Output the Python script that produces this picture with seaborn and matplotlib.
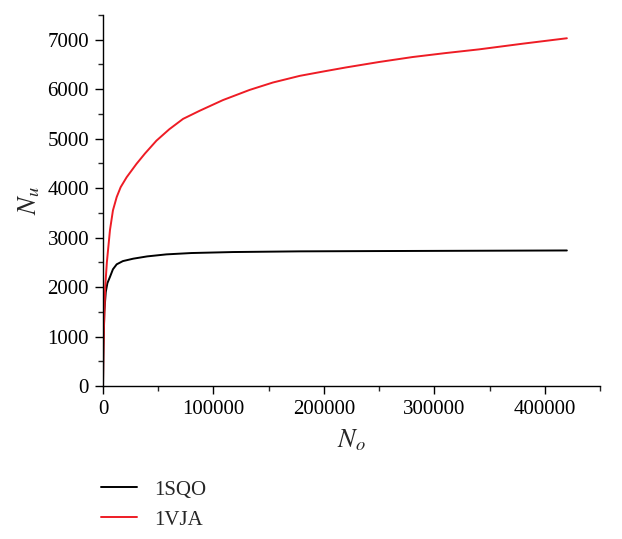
import matplotlib
matplotlib.use("Agg")
import matplotlib.pyplot as plt
import seaborn as sns
import pandas as pd
from matplotlib.ticker import MultipleLocator
from matplotlib.lines import Line2D

# Data
sqo_x = [0, 400, 1200, 2500, 4000, 6300, 9000, 12400, 18000, 27400, 40000, 57500,
         80000, 117700, 178000, 250000, 350000, 420000]
sqo_y = [0, 800, 1500, 1900, 2080, 2205, 2360, 2460, 2525, 2574, 2620, 2661,
         2688, 2708, 2722, 2728, 2735, 2740]
vja_x = [0, 300, 900, 2000, 3500, 6300, 9000, 12400, 16000, 21400, 30300, 38000,
         48400, 60000, 72500, 87600, 108600, 132700, 153800, 178200, 200000,
         220000, 250000, 280200, 310000, 340400, 380000, 420000]
vja_y = [0, 600, 1200, 2000, 2500, 3150, 3550, 3820, 4020, 4220, 4490, 4700,
         4960, 5190, 5400, 5565, 5780, 5985, 6135, 6270, 6360,
         6440, 6550, 6650, 6730, 6805, 6920, 7030]
series = ["1SQO", "1VJA"]
colors = ["#000000", "#ee1c25"]
x_ticks = [0, 100000, 200000, 300000, 400000]
y_ticks = [0, 1000, 2000, 3000, 4000, 5000, 6000, 7000]

df = pd.concat([
    pd.DataFrame({"No": sqo_x, "Nu": sqo_y, "series": series[0]}),
    pd.DataFrame({"No": vja_x, "Nu": vja_y, "series": series[1]}),
])

sns.set_style("ticks")
plt.rcParams["font.family"] = ["Liberation Serif", "DejaVu Serif"]
plt.rcParams["mathtext.fontset"] = "stix"

fig = plt.figure(figsize=(6.22, 5.39), dpi=100)
ax = fig.add_axes([103 / 622, 1 - 386 / 539, (600 - 103) / 622, (386 - 15) / 539])

sns.lineplot(data=df, x="No", y="Nu", hue="series", palette=colors,
             estimator=None, sort=False, linewidth=1.4, ax=ax, legend=False)

ax.set_xlim(0, 450000)
ax.set_ylim(0, 7500)
ax.set_xticks(x_ticks)
ax.set_xticklabels([str(v) for v in x_ticks])
ax.set_yticks(y_ticks)
ax.set_yticklabels([str(v) for v in y_ticks])
ax.xaxis.set_minor_locator(MultipleLocator(50000))
ax.yaxis.set_minor_locator(MultipleLocator(500))
ax.tick_params(axis="both", which="major", direction="out", length=6, width=1,
               labelsize=15, colors="black", pad=4)
ax.tick_params(axis="both", which="minor", direction="out", length=3.5, width=1)
for s in ["top", "right"]:
    ax.spines[s].set_visible(False)
for s in ["left", "bottom"]:
    ax.spines[s].set_linewidth(1.0)
    ax.spines[s].set_color("black")

ax.set_xlabel("$N_o$", fontsize=19, labelpad=6)
ax.set_ylabel("$N_u$", fontsize=19, labelpad=4)

handles = [Line2D([], [], color=c, lw=1.4) for c in colors]
fig.legend(handles, series, loc="upper left", bbox_to_anchor=(101 / 622, 1 - 480 / 539),
           frameon=False, fontsize=15, handlelength=1.75, handletextpad=0.8,
           labelspacing=0.5, borderaxespad=0, borderpad=0)

fig.savefig("out.png", dpi=100, facecolor="white")
